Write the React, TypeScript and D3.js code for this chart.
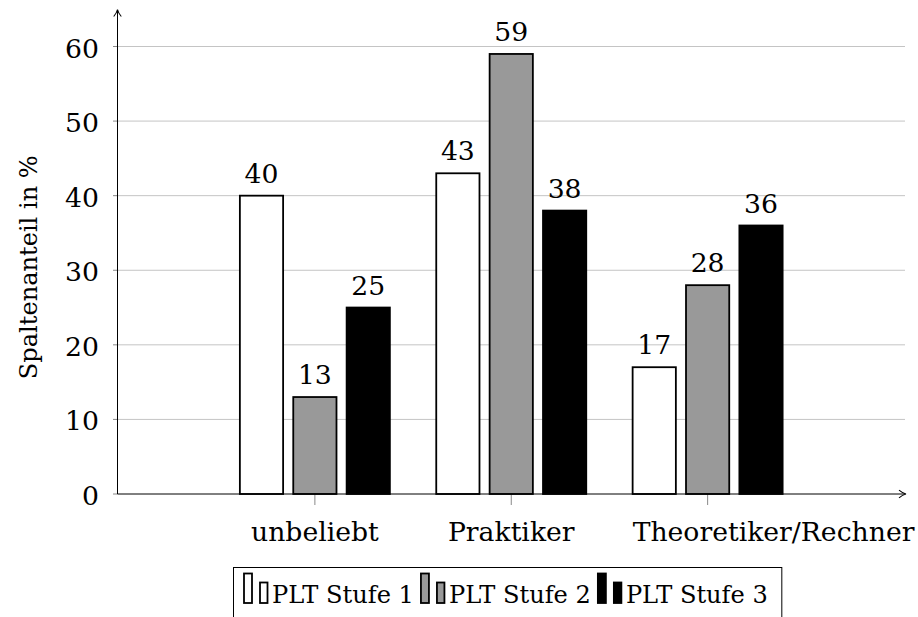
import React, { useEffect, useRef } from "react";
import * as d3 from "d3";

const categories = ["unbeliebt", "Praktiker", "Theoretiker/Rechner"];
const seriesNames = ["PLT Stufe 1", "PLT Stufe 2", "PLT Stufe 3"];
const stufe1 = [40, 43, 17];
const stufe2 = [13, 59, 28];
const stufe3 = [25, 38, 36];
const yTicks = [0, 10, 20, 30, 40, 50, 60];
const seriesFills = ["#ffffff", "#999999", "#000000"];
const yTitle = "Spaltenanteil in %";

const W = 918;
const H = 617;
const FONT = "'DejaVu Serif', 'Liberation Serif', serif";

export default function App() {
  const ref = useRef<SVGSVGElement | null>(null);

  useEffect(() => {
    const svg = d3.select(ref.current);
    svg.selectAll("*").remove();

    const values = [stufe1, stufe2, stufe3];
    const x = d3.scaleLinear().domain([-1, 3]).range([118.5, 904]);
    const inner = d3
      .scaleBand<string>()
      .domain(seriesNames)
      .range([-75, 75])
      .paddingInner(0.19);
    const y = d3.scaleLinear().domain([0, 60]).range([494, 46.5]);

    const axisX0 = 117.5;
    const axisY0 = y(0);

    const fit = (t: d3.Selection<SVGTextElement, any, any, any>, base: number, target: number) => {
      const node = t.node() as SVGTextElement;
      const len = node.getComputedTextLength();
      if (len > 0) t.attr("font-size", (base * target) / len);
    };

    // grid
    svg
      .append("g")
      .selectAll("line")
      .data(yTicks.filter((t) => t > 0))
      .join("line")
      .attr("x1", axisX0)
      .attr("x2", 905)
      .attr("y1", (d) => y(d))
      .attr("y2", (d) => y(d))
      .attr("stroke", "#c4c4c4")
      .attr("stroke-width", 1);

    // y ticks
    svg
      .append("g")
      .selectAll("line")
      .data(yTicks)
      .join("line")
      .attr("x1", axisX0 - 4.5)
      .attr("x2", axisX0)
      .attr("y1", (d) => y(d))
      .attr("y2", (d) => y(d))
      .attr("stroke", "#888")
      .attr("stroke-width", 1);

    // x ticks
    svg
      .append("g")
      .selectAll("line")
      .data(categories)
      .join("line")
      .attr("x1", (_d, i) => x(i))
      .attr("x2", (_d, i) => x(i))
      .attr("y1", axisY0)
      .attr("y2", axisY0 + 11)
      .attr("stroke", "#888")
      .attr("stroke-width", 1);

    const probe = svg
      .append("text")
      .attr("font-family", FONT)
      .attr("font-size", 33)
      .text("Theoretiker/Rechner");
    const probeLen = (probe.node() as SVGTextElement).getComputedTextLength();
    probe.remove();
    const fs = probeLen > 0 ? (33 * 282) / probeLen : 33;

    // bars
    const bw = inner.bandwidth();
    seriesNames.forEach((s, si) => {
      const g = svg.append("g");
      g.selectAll("rect")
        .data(values[si])
        .join("rect")
        .attr("x", (_d, i) => x(i) + (inner(s) as number))
        .attr("y", (d) => y(d))
        .attr("width", bw)
        .attr("height", (d) => axisY0 - y(d))
        .attr("fill", seriesFills[si])
        .attr("stroke", "#000")
        .attr("stroke-width", 1.8);
      g.selectAll("text")
        .data(values[si])
        .join("text")
        .attr("x", (_d, i) => x(i) + (inner(s) as number) + bw / 2)
        .attr("y", (d) => y(d) - 13)
        .attr("text-anchor", "middle")
        .attr("font-family", FONT)
        .attr("font-size", fs)
        .attr("fill", "#000")
        .text((d) => String(d));
    });

    // axes lines
    svg
      .append("line")
      .attr("x1", axisX0)
      .attr("x2", axisX0)
      .attr("y1", axisY0)
      .attr("y2", 10)
      .attr("stroke", "#000")
      .attr("stroke-width", 1);
    svg
      .append("line")
      .attr("x1", axisX0)
      .attr("x2", 905)
      .attr("y1", axisY0)
      .attr("y2", axisY0)
      .attr("stroke", "#000")
      .attr("stroke-width", 1);
    svg
      .append("path")
      .attr(
        "d",
        `M ${axisX0 - 3.8} 16.5 Q ${axisX0 - 0.8} 13 ${axisX0} 9.5 Q ${axisX0 + 0.8} 13 ${axisX0 + 3.8} 16.5`
      )
      .attr("fill", "none")
      .attr("stroke", "#000")
      .attr("stroke-width", 1.1);
    svg
      .append("path")
      .attr(
        "d",
        `M 899 ${axisY0 - 3.8} Q 902.5 ${axisY0 - 0.8} 906 ${axisY0} Q 902.5 ${axisY0 + 0.8} 899 ${axisY0 + 3.8}`
      )
      .attr("fill", "none")
      .attr("stroke", "#000")
      .attr("stroke-width", 1.1);

    // y tick labels
    svg
      .append("g")
      .selectAll("text")
      .data(yTicks)
      .join("text")
      .attr("x", 99)
      .attr("y", (d) => y(d) + 11)
      .attr("text-anchor", "end")
      .attr("font-family", FONT)
      .attr("font-size", fs)
      .text((d) => String(d));

    // category labels: centred under the tick, but never starting left of the group
    const groupHalf = 75;
    svg
      .append("g")
      .selectAll("text")
      .data(categories)
      .join("text")
      .attr("y", 541)
      .attr("text-anchor", "middle")
      .attr("font-family", FONT)
      .attr("font-size", fs)
      .text((d) => d)
      .each(function (_d, i) {
        const len = (this as SVGTextElement).getComputedTextLength();
        const cx = Math.max(x(i), x(i) - groupHalf + len / 2);
        d3.select(this).attr("x", cx);
      });

    // y title
    const yt = svg
      .append("text")
      .attr("transform", `translate(37, ${(y(0) + y(60)) / 2 - 3}) rotate(-90)`)
      .attr("text-anchor", "middle")
      .attr("font-family", FONT)
      .attr("font-size", 31)
      .text(yTitle);
    fit(yt, 31, 224);

    // legend
    const leg = svg.append("g");
    const box = leg
      .append("rect")
      .attr("x", 233.5)
      .attr("y", 567.5)
      .attr("height", 80)
      .attr("fill", "#fff")
      .attr("stroke", "#000")
      .attr("stroke-width", 1);
    let cx = 244;
    seriesNames.forEach((s, si) => {
      leg
        .append("rect")
        .attr("x", cx)
        .attr("y", 573.5)
        .attr("width", 8)
        .attr("height", 29.5)
        .attr("fill", seriesFills[si])
        .attr("stroke", "#000")
        .attr("stroke-width", 1.8);
      leg
        .append("rect")
        .attr("x", cx + 16)
        .attr("y", 582.5)
        .attr("width", 7.5)
        .attr("height", 20.5)
        .attr("fill", seriesFills[si])
        .attr("stroke", "#000")
        .attr("stroke-width", 1.8);
      const t = leg
        .append("text")
        .attr("x", cx + 28)
        .attr("y", 603)
        .attr("font-family", FONT)
        .attr("font-size", 29)
        .text(s);
      fit(t, 29, 142);
      const len = (t.node() as SVGTextElement).getComputedTextLength();
      cx = cx + 28 + len + 7;
    });
    box.attr("width", cx - 7 + 14 - 233.5);
  }, []);

  return (
    <svg
      ref={ref}
      width={W}
      height={H}
      style={{ position: "absolute", left: 0, top: 0, background: "#fff" }}
    />
  );
}
